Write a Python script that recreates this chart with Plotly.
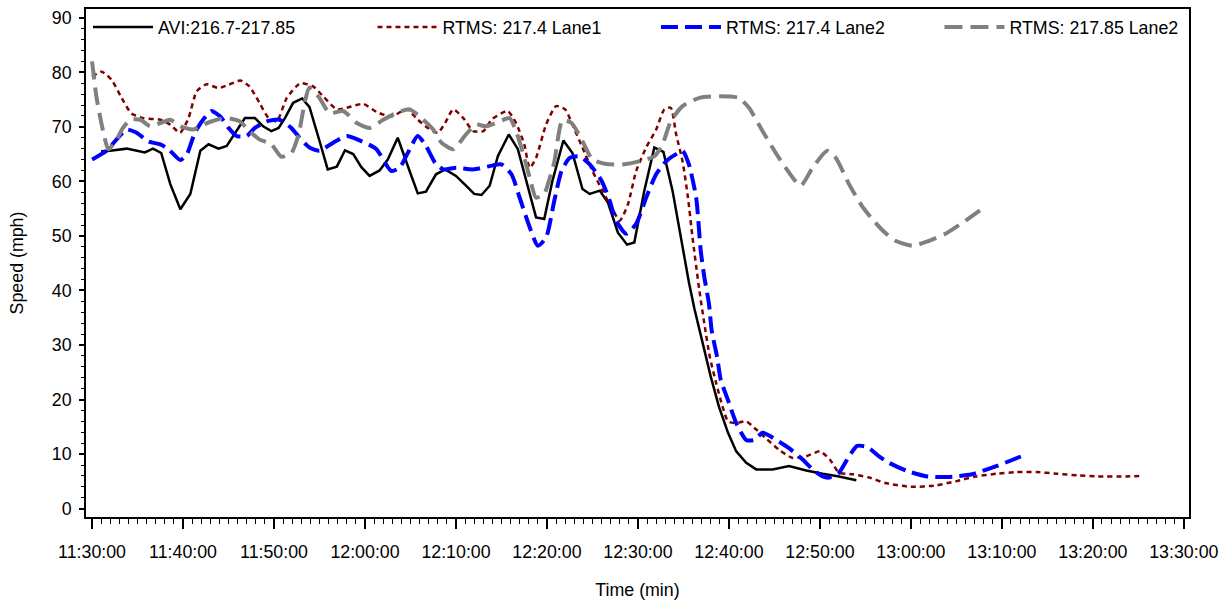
import pandas as pd
import plotly.graph_objects as go

# minutes after 11:30:00 and speeds (mph)
avi_min = [1.0, 2.0, 3.8, 5.8, 6.7, 7.6, 8.6, 9.7, 10.8, 11.9, 12.8, 13.9, 14.8, 15.9, 16.8, 17.9,
           18.8, 19.7, 20.5, 21.2, 22.1, 23.1, 23.9, 25.0, 25.9, 26.9, 27.8, 28.7, 29.6, 30.5, 31.6,
           32.5, 33.6, 34.9, 35.8, 36.7, 37.8, 38.8, 40.0, 41.1, 42.0, 42.8, 43.7, 44.6, 45.8, 46.8,
           47.7, 48.8, 49.7, 50.6, 51.8, 52.8, 53.9, 54.7, 55.8, 56.7, 57.8, 58.8, 59.6, 60.7, 61.8,
           62.8, 63.8, 64.9, 65.6, 66.2, 67.1, 68.0, 68.9, 69.9, 70.8, 71.9, 73.0, 74.8, 76.6, 78.5,
           80.3, 82.1, 84.0]
avi_speed = [65.5, 65.6, 66.0, 65.3, 66.0, 65.2, 59.5, 54.9, 57.7, 65.6, 66.8, 66.0, 66.5, 69.2, 71.6, 71.6,
             70.1, 69.2, 69.8, 71.6, 74.4, 75.2, 73.6, 67.4, 62.2, 62.7, 65.7, 65.0, 62.6, 61.0, 62.0,
             64.0, 68.0, 61.9, 57.8, 58.1, 61.3, 62.2, 61.0, 59.2, 57.7, 57.5, 59.2, 64.6, 68.6, 65.9,
             60.1, 53.4, 53.1, 60.1, 67.5, 65.2, 58.6, 57.7, 58.3, 56.1, 50.6, 48.4, 48.8, 58.3, 66.2,
             65.4, 58.3, 48.0, 41.5, 36.7, 30.3, 24.2, 18.7, 13.9, 10.5, 8.4, 7.2, 7.2, 7.8, 7.0,
             6.4, 5.9, 5.2]

lane1_min = [0.0, 1.06, 2.15, 3.25, 4.3, 5.6, 7.5, 8.6, 9.66, 10.6, 11.5, 12.6, 13.9, 15.0, 16.3, 17.3,
             18.4, 19.4, 20.3, 21.4, 22.9, 24.3, 25.4, 26.9, 28.0, 29.8, 31.3, 32.9, 34.6, 35.8, 36.9,
             38.0, 38.8, 39.7, 40.8, 41.9, 43.0, 43.9, 45.0, 45.7, 46.6, 47.5, 48.1, 48.8, 49.9, 51.0,
             52.0, 52.8, 53.9, 55.0, 56.1, 57.1, 58.0, 58.9, 59.8, 60.9, 62.0, 62.9, 63.6, 64.2, 64.9,
             65.5, 66.0, 66.75, 67.3, 67.9, 68.6, 69.3, 69.9, 70.8, 71.9, 73.0, 74.0, 75.5, 77.0, 78.5,
             80.0, 81.1, 82.1, 83.6, 85.4, 87.2, 90.0, 92.7, 94.9, 97.1, 99.4, 101.6, 103.8, 106.1,
             108.3, 110.5, 113.6, 115.3]
lane1_speed = [79.2, 80.1, 78.6, 75.3, 72.5, 71.6, 71.3, 70.4, 68.9, 71.6, 76.5, 77.8, 77.1, 77.7, 78.5, 77.4,
               74.4, 71.6, 71.0, 75.3, 78.0, 77.4, 75.6, 73.2, 73.5, 74.2, 72.7, 71.9, 73.2, 71.3, 69.8,
               68.9, 70.7, 73.2, 71.6, 69.2, 69.2, 71.3, 72.5, 72.9, 70.7, 66.8, 62.5, 64.3, 70.4, 73.8,
               73.2, 70.4, 66.2, 61.9, 58.3, 55.2, 52.8, 55.8, 61.9, 66.2, 69.5, 73.2, 73.5, 68.6, 63.7,
               57.0, 49.7, 40.0, 33.9, 27.8, 23.0, 18.7, 16.0, 15.7, 16.0, 14.5, 13.0, 10.8, 9.3, 9.6,
               10.5, 9.0, 6.6, 6.3, 5.7, 4.7, 4.0, 4.25, 5.0, 5.9, 6.4, 6.7, 6.7, 6.4,
               6.1, 5.9, 5.9, 6.0]

lane2_min = [0.0, 1.6, 2.7, 3.8, 4.9, 6.2, 7.5, 8.4, 9.7, 10.4, 11.3, 12.2, 13.1, 14.1, 15.0, 15.9,
             17.0, 17.9, 19.2, 20.6, 21.9, 22.8, 23.9, 25.0, 26.5, 28.0, 29.4, 31.2, 32.9, 33.8, 34.7,
             35.8, 36.7, 37.7, 38.6, 40.0, 41.9, 43.7, 45.0, 46.1, 47.0, 48.1, 49.0, 49.9, 50.8, 51.6,
             52.5, 53.6, 54.7, 56.0, 56.9, 57.6, 58.7, 59.8, 60.9, 62.0, 63.1, 64.2, 64.9, 65.6, 66.4,
             66.9, 67.3, 67.8, 68.1, 68.7, 69.1, 69.9, 70.8, 71.9, 72.8, 73.7, 75.2, 76.6, 78.1, 79.2,
             80.3, 81.0, 82.1, 83.2, 84.1, 85.2, 86.5, 87.6, 89.6, 91.8, 94.0, 96.7, 99.4, 102.3]
lane2_speed = [64.0, 65.6, 67.7, 69.5, 68.9, 67.3, 66.8, 65.9, 63.9, 64.9, 68.9, 71.3, 72.9, 71.9, 69.8, 68.3,
               68.3, 69.8, 71.0, 71.3, 69.8, 68.0, 66.2, 65.6, 67.1, 68.3, 67.5, 66.0, 61.9, 62.5, 65.2,
               68.3, 66.5, 63.4, 62.2, 62.5, 62.2, 62.8, 63.1, 61.3, 57.0, 51.6, 48.2, 49.7, 56.4, 61.9,
               64.3, 64.6, 63.1, 60.1, 56.4, 52.8, 50.4, 52.2, 57.0, 61.3, 63.7, 65.0, 65.6, 63.1, 57.0,
               47.3, 42.4, 37.6, 32.7, 27.8, 23.6, 19.9, 15.7, 12.6, 12.6, 13.9, 12.6, 11.1, 9.0, 7.2,
               5.9, 5.7, 6.6, 9.6, 11.5, 11.3, 9.6, 8.4, 6.9, 5.9, 5.8, 6.3, 7.8, 9.7]

st85_min = [0.0, 0.5, 1.06, 1.8, 2.7, 3.4, 4.2, 5.3, 6.4, 7.5, 8.6, 9.7, 11.1, 12.2, 13.7, 14.8,
            16.25, 17.3, 18.4, 19.7, 20.8, 21.9, 22.7, 23.4, 23.9, 25.0, 26.1, 27.6, 29.1, 30.5, 32.0,
            33.4, 34.9, 36.2, 37.5, 38.4, 39.7, 41.1, 42.2, 43.3, 44.8, 45.9, 46.6, 47.4, 48.1, 48.8,
            49.7, 50.1, 50.8, 51.7, 52.7, 53.8, 55.0, 56.5, 58.3, 60.2, 61.8, 62.7, 63.6, 64.9, 66.75,
            69.0, 71.1, 72.2, 73.7, 75.5, 77.0, 77.9, 79.2, 80.8, 81.75, 83.2, 84.5, 85.6, 86.9, 88.3,
            90.2, 92.0, 93.8, 96.0, 98.0]
st85_speed = [82.0, 75.3, 70.4, 65.9, 67.7, 69.8, 71.3, 71.3, 70.1, 70.7, 71.3, 70.1, 69.5, 70.4, 71.3, 71.6,
              71.0, 69.2, 67.7, 66.8, 64.5, 65.2, 68.6, 74.7, 77.2, 75.3, 72.5, 72.9, 70.7, 69.8, 71.3,
              72.5, 73.2, 71.6, 69.5, 67.1, 65.9, 68.6, 70.4, 70.1, 71.0, 71.6, 69.2, 65.0, 60.7, 57.0,
              57.7, 59.5, 63.5, 71.2, 70.7, 67.7, 64.0, 63.2, 63.1, 63.7, 64.6, 66.8, 71.0, 73.8, 75.3,
              75.6, 75.3, 73.5, 69.2, 64.3, 60.7, 59.2, 62.5, 65.6, 64.3, 59.5, 55.8, 53.4, 51.0, 49.1,
              48.2, 49.1, 50.4, 52.8, 55.2]

series_names = ["AVI:216.7-217.85", "RTMS: 217.4 Lane1", "RTMS: 217.4 Lane2", "RTMS: 217.85 Lane2"]
y_ticks = [0, 10, 20, 30, 40, 50, 60, 70, 80, 90]

t0 = pd.Timestamp("2000-01-01 11:30:00")


def to_time(mins):
    return [t0 + pd.Timedelta(minutes=m) for m in mins]


FONT = "Liberation Sans, Arial, sans-serif"
FS = 17.8

fig = go.Figure()
fig.add_trace(go.Scatter(x=to_time(avi_min), y=avi_speed, name=series_names[0], mode="lines",
                         legend="legend",
                         line=dict(color="black", width=2.5)))
fig.add_trace(go.Scatter(x=to_time(lane1_min), y=lane1_speed, name=series_names[1], mode="lines",
                         legend="legend2",
                         line=dict(color="#800000", width=2.5, dash="5px,4px", shape="spline", smoothing=0.6)))
fig.add_trace(go.Scatter(x=to_time(lane2_min), y=lane2_speed, name=series_names[2], mode="lines",
                         legend="legend3",
                         line=dict(color="#0000FF", width=4, dash="17px,7px", shape="spline", smoothing=0.6)))
fig.add_trace(go.Scatter(x=to_time(st85_min), y=st85_speed, name=series_names[3], mode="lines",
                         legend="legend4",
                         line=dict(color="#808080", width=4, dash="18px,8px", shape="spline", smoothing=0.6)))


def legend_at(xfrac):
    return dict(orientation="h", x=xfrac, y=1.0, xanchor="left", yanchor="top",
                bgcolor="rgba(0,0,0,0)", font=dict(size=FS, family=FONT), itemwidth=60)


plot_w = 1226 - 86 - 35
fig.update_layout(
    width=1226, height=604,
    margin=dict(l=86, r=35, t=7, b=86),
    paper_bgcolor="white", plot_bgcolor="white",
    font=dict(family=FONT, size=FS, color="black"),
    showlegend=True,
    legend=legend_at(2 / plot_w),
    legend2=legend_at(287 / plot_w),
    legend3=legend_at(571 / plot_w),
    legend4=legend_at(855 / plot_w),
)

fig.update_xaxes(
    type="date",
    range=[t0 - pd.Timedelta(seconds=40), t0 + pd.Timedelta(minutes=120, seconds=34)],
    tick0=t0, dtick=600000, tickformat="%H:%M:%S",
    ticks="outside", ticklen=10, tickwidth=1.5, tickcolor="black",
    minor=dict(dtick=60000, tick0=t0, ticks="outside", ticklen=5, tickwidth=1.2, tickcolor="black", showgrid=False),
    showline=True, linecolor="black", linewidth=1.6, mirror=True,
    showgrid=False, zeroline=False,
    ticklabelstandoff=8,
    title=dict(text="Time (min)", standoff=22, font=dict(size=FS)),
    tickfont=dict(size=FS),
)
fig.update_yaxes(
    range=[-1.53, 91.6],
    tickvals=y_ticks,
    ticks="outside", ticklen=5, tickwidth=1.5, tickcolor="black",
    minor=dict(dtick=2, tick0=0, ticks="outside", ticklen=3, tickwidth=1.2, tickcolor="black", showgrid=False),
    showline=True, linecolor="black", linewidth=1.6, mirror=True,
    showgrid=False, zeroline=False,
    ticklabelstandoff=4,
    title=dict(text="Speed (mph)", standoff=24, font=dict(size=FS)),
    tickfont=dict(size=FS),
)

fig.write_html("out.html")
